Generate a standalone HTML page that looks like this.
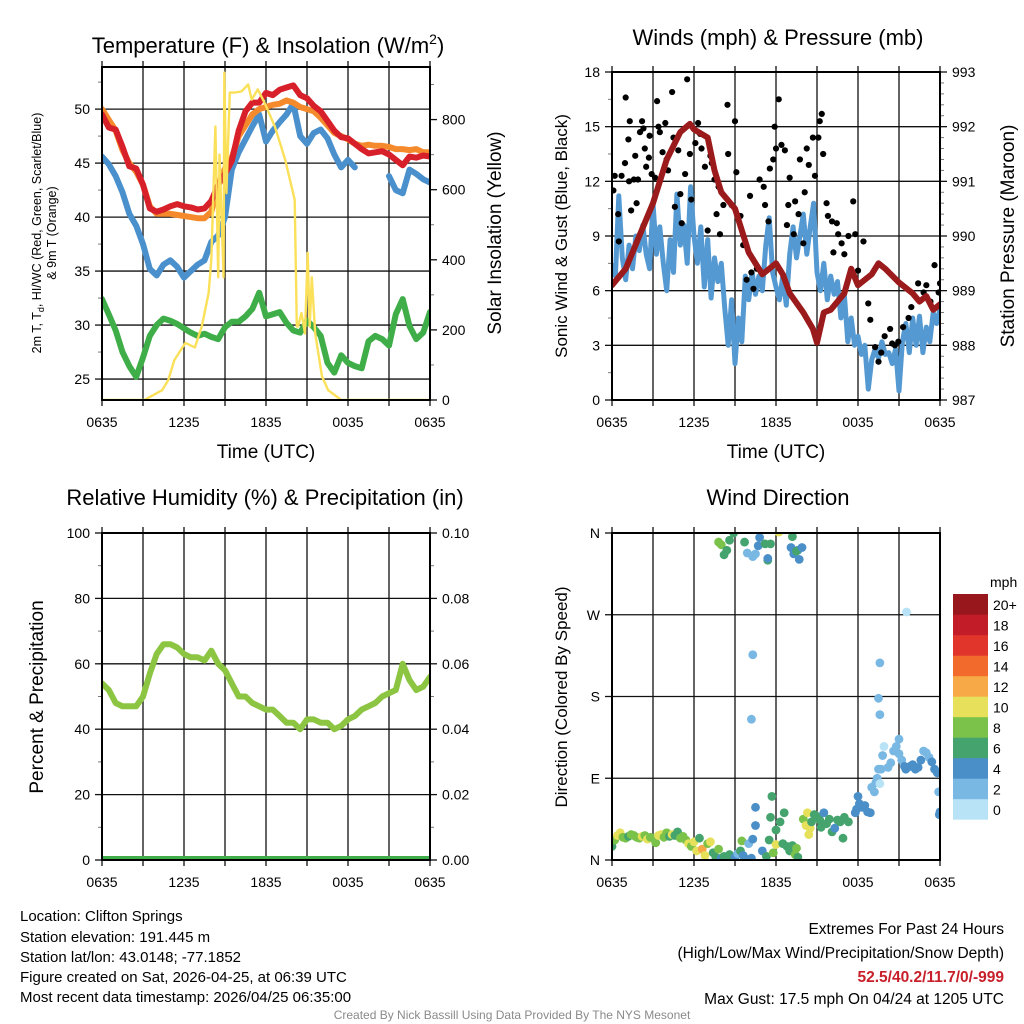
<!DOCTYPE html>
<html><head><meta charset="utf-8"><style>
html,body{margin:0;padding:0;background:#fff;}
svg{display:block;font-family:"Liberation Sans",Arial,sans-serif;}
</style></head><body>
<svg id="chart" width="1024" height="1024" viewBox="0 0 1024 1024" xmlns="http://www.w3.org/2000/svg">
<defs>
<clipPath id="c1"><rect x="102" y="67" width="328" height="333"/></clipPath>
<clipPath id="c2"><rect x="612" y="72" width="328" height="328"/></clipPath>
<clipPath id="c3"><rect x="102" y="533" width="328" height="327"/></clipPath>
<clipPath id="c4"><rect x="612" y="533" width="328" height="327"/></clipPath>
</defs>
<text x="268" y="53" font-size="22" text-anchor="middle">Temperature (F) &amp; Insolation (W/m<tspan dy="-9" font-size="14">2</tspan><tspan dy="9">)</tspan></text>
<text x="778" y="45" font-size="22" text-anchor="middle">Winds (mph) &amp; Pressure (mb)</text>
<text x="265" y="505" font-size="22" text-anchor="middle">Relative Humidity (%) &amp; Precipitation (in)</text>
<text x="778" y="505" font-size="22" text-anchor="middle">Wind Direction</text>
<g transform="translate(41,233) rotate(-90)"><text x="0" y="0" font-size="12.5" text-anchor="middle">2m T, T<tspan font-size="9" dy="3">d</tspan><tspan dy="-3">, HI/WC (Red, Green, Scarlet/Blue)</tspan></text><text x="0" y="15" font-size="12.5" text-anchor="middle">&amp; 9m T (Orange)</text></g>
<text transform="translate(501,233) rotate(-90)" font-size="19" text-anchor="middle">Solar Insolation (Yellow)</text>
<text transform="translate(567,236) rotate(-90)" font-size="17" text-anchor="middle">Sonic Wind &amp; Gust (Blue, Black)</text>
<text transform="translate(1014,236) rotate(-90)" font-size="19" text-anchor="middle">Station Pressure (Maroon)</text>
<text transform="translate(43,697) rotate(-90)" font-size="19" text-anchor="middle">Percent &amp; Precipitation</text>
<text transform="translate(567,697) rotate(-90)" font-size="17" text-anchor="middle">Direction (Colored By Speed)</text>
<text x="266" y="458" font-size="19" text-anchor="middle">Time (UTC)</text>
<text x="776" y="458" font-size="19" text-anchor="middle">Time (UTC)</text>
<g font-size="15">
<text x="20" y="921">Location: Clifton Springs</text>
<text x="20" y="942">Station elevation: 191.445 m</text>
<text x="20" y="962">Station lat/lon: 43.0148; -77.1852</text>
<text x="20" y="982">Figure created on Sat, 2026-04-25, at 06:39 UTC</text>
<text x="20" y="1002">Most recent data timestamp: 2026/04/25 06:35:00</text>
</g>
<g font-size="15.5" text-anchor="end">
<text x="1004" y="934">Extremes For Past 24 Hours</text>
<text x="1004" y="958">(High/Low/Max Wind/Precipitation/Snow Depth)</text>
<text x="1004" y="982" fill="#c8202a" font-weight="bold">52.5/40.2/11.7/0/-999</text>
<text x="1004" y="1004">Max Gust: 17.5 mph On 04/24 at 1205 UTC</text>
</g>
<text x="512" y="1019" font-size="12" fill="#8a8a8a" text-anchor="middle">Created By Nick Bassill Using Data Provided By The NYS Mesonet</text>
<g id="layer"></g>
</svg>
<script>
// ---- data ----
const tickLabels = ["0635","1235","1835","0035","0635"];
const halfHourTimes = [];
for (let i = 0; i <= 48; i++) halfHourTimes.push(i / 2);
const tempRed = [49.5,48.3,48.1,46.5,44.7,44.5,43,40.8,40.5,40.7,41,41.2,41,40.9,40.7,40.8,41.5,43,44,45.2,48,49.8,50.6,50.6,51.5,51.3,51.8,52,52.2,51.3,51,50.3,49.8,48.9,48,47.4,47.3,46.8,46.3,45.9,46,46.1,45.8,45.3,44.8,45.6,45.5,45.7,45.6];
const tempOrange = [50,49,48,46.2,45,44.2,43,41,40.3,40.3,40.3,40.2,40.1,40,39.9,39.9,40.5,43,44.5,45.5,47.5,48.5,49.5,50,50.2,50.4,50.5,50.8,50.6,50.2,50,49.8,49.2,48.5,47.8,47.5,47.2,46.8,46.6,46.7,46.6,46.6,46.5,46.3,46.3,46.2,46.3,46,46];
const dewBlue = [45.6,44.9,43.8,42.3,40.3,39.2,37.5,35.2,34.6,35.6,36,35.4,34.4,35,35.6,36,37.7,38.3,40,44.4,46,47.2,48.4,49.5,47,48,48.8,49.5,50.5,47.5,46.8,47.8,48.1,47.3,45.8,44.6,45.3,44.6,null,null,null,null,43.8,42.5,42.2,44.4,44,43.5,43.2];
const chillGreen = [32.4,31.0,29.5,27.5,26.2,25.2,27.0,29.0,30.0,30.6,30.4,30.1,29.7,29.3,29.0,29.2,28.9,28.7,29.8,30.3,30.3,30.8,31.5,33.0,30.8,31.0,31.2,30.2,29.5,29.3,30.4,29.8,29.0,26.5,25.6,27.2,26.5,26.2,26.0,28.5,29.0,28.7,28.1,31.0,32.4,29.9,28.7,29.3,31.2];
const solarTimes = [0,3.1,4.4,4.85,5.3,6.1,6.8,7.3,7.8,8,8.3,8.5,8.6,8.9,8.95,9.1,9.35,9.7,10.2,10.7,10.95,11.4,11.9,12.65,13.4,14.1,14.25,14.35,14.6,14.85,15.05,15.2,15.35,15.6,16.1,16.55,17.5,24];
const solarValues = [0,0,28,57,114,163,150,210,305,400,780,350,700,350,934,590,877,877,880,900,857,886,848,780,686,571,210,210,248,190,420,210,350,190,67,28,0,0];
const windHours = [];
for (let i = 0; i <= 96; i++) windHours.push(i / 4);
const windSpeed = [7.5,6.8,11.2,7.8,6.6,8.5,7.2,9.0,8.2,9.6,8.0,7.2,10.8,8.0,9.5,7.5,6.0,8.8,7.0,11.3,8.5,9.6,7.5,11.7,9.0,7.5,9.5,6.2,8.8,5.6,7.8,6.5,7.5,5.0,3.0,5.5,2.0,4.5,3.2,6.8,5.5,7.0,5.8,6.8,6.0,8.5,10.0,7.0,6.2,5.5,6.8,5.2,8.0,9.5,7.8,9.0,10.2,8.0,9.5,10.8,7.0,6.0,7.5,5.5,6.8,5.8,6.5,4.5,5.8,3.2,4.5,3.0,3.5,2.5,3.0,0.6,2.2,2.8,2.3,3.2,2.5,2.6,2.0,2.8,0.5,3.2,4.2,2.6,4.5,3.0,4.6,2.6,4.0,3.2,4.8,4.2,5.0];
const gustTimes = [0.1,0.2,0.45,0.5,0.7,1,0.95,1.2,1.3,1.25,1.4,1.6,1.7,1.8,1.9,2.05,2.2,2.3,2.4,2.5,2.7,2.75,2.9,3.15,3.3,3.4,3.5,3.7,3.9,4,4.1,4.4,4.5,4.6,4.85,5,5.1,5.35,5.5,5.7,5.8,6.1,6.3,6.45,6.55,6.8,7,7.2,7.3,7.5,7.65,7.8,7.9,8.15,8.45,8.5,8.75,9,9.1,9.4,9.6,9.85,10.1,10.2,10.35,10.6,10.8,11.1,11.2,11.45,11.55,11.8,11.9,12,12.2,12.4,12.65,12.8,12.9,13,13.3,13.4,13.65,13.75,14,14.1,14.25,14.4,14.7,14.85,15.1,15.2,15.35,15.45,15.7,15.8,16.1,16.2,16.45,16.55,16.8,17,17.3,17.65,17.8,18,18.4,18.75,18.9,19.25,19.5,19.7,19.95,20.35,20.5,20.7,20.95,21.3,21.7,21.9,22.4,22.8,23,23.3,23.6,23.9,24];
const gustValues = [11.5,12.3,10.2,8.7,12.3,16.6,13,14.3,15.3,12,10.4,12.1,13.4,10.8,12.1,14.7,15.3,14.9,13.8,12.8,13.3,14.5,12.4,12.2,16.4,15,14.7,13.6,15.2,13.2,12.6,16.9,14.4,10.6,13.7,11.3,9.7,12.4,17.6,13.5,11,14.1,15.2,14.6,13.8,12.8,9.3,13.4,13,12.1,10.2,11.7,9.1,10.7,16.2,13.5,10.7,15.3,12.5,10.1,8.5,6.6,11.2,7,6.1,7.2,12.1,11.7,10.7,9.8,12.7,13.2,15,13.8,16.5,14,13.7,9.6,10.7,12.2,9.1,10.9,10.2,13.2,8.6,11.4,13.8,12.9,14.4,12.3,14.4,15.3,15.7,13.5,10.8,10.1,9.8,8.1,9.7,9.1,8.6,8,9,10.9,9.1,7.1,8.7,5.3,4.4,2.9,2.1,2.6,3.5,3.9,3.1,3,3.2,4,4.5,5.1,6.4,5.9,6.3,5.4,7.4,5.9,6.4];
const pressHours = [0,1,2,3,4,5,5.7,6,7,7.5,8,9,10,11,12,12.5,13,14,14.7,15,15.5,16,17,17.5,18,19,19.5,20,21,22,22.5,23,23.5,24];
const pressure = [989.1,989.4,990.0,990.6,991.4,991.9,992.05,991.95,991.8,991.2,990.8,990.5,989.7,989.3,989.5,989.3,988.95,988.6,988.3,988.05,988.6,988.65,988.95,989.4,989.1,989.3,989.5,989.4,989.15,988.95,988.8,988.9,988.65,988.75];
const rhValues = [54,52,48,47,47,47,50,57,63,66,66,65,63,62,62,61,64,60,58,54,50,50,48,47,46,46,44,42,42,40,43,43,42,42,40,41,43,44,46,47,48,50,51,52,60,55,52,53,56];
const precipValues = [0,0,0,0,0,0,0,0,0,0,0,0,0,0,0,0,0,0,0,0,0,0,0,0,0,0,0,0,0,0,0,0,0,0,0,0,0,0,0,0,0,0,0,0,0,0,0,0,0];
const dirTimes = [0,0.2,0.4,0.6,0.8,1,1.2,1.4,1.6,1.8,2,2.2,2.4,2.6,2.8,3,3.2,3.4,3.6,3.8,4,4.2,4.4,4.6,4.8,5,5.2,5.4,5.6,5.8,6,6.2,6.4,6.6,6.8,7,7.2,7.4,7.6,7.8,8,8.2,8.4,8.6,8.8,9,9.2,9.4,9.5,9.6,9.8,10,10.2,10.3,10.5,10.5,11,11.3,11.5,11.6,11.7,11.8,12,12,12.3,12.6,12.5,12.8,13,13.2,13.4,13.5,13.6,14,14.2,14.3,14.4,14.5,14.6,14.8,15,15.2,15.3,15.5,15.7,15.9,16.1,16.3,16.5,16.7,16.9,17,17.3,17.8,17.9,18,18.1,18.3,18.5,18.7,18.9,19,19.2,19.3,19.4,19.5,19.6,19.7,19.8,19.9,19.6,19.5,19.6,20.2,20.4,20.6,20.8,21,21,21.2,21.4,21.5,21.55,21.8,22,22.2,22.4,22.6,22.8,23,23.2,23.4,23.6,23.8,23.9,24,23.95,7.8,8,8.2,8.4,8.6,8.9,9.7,9.9,10.3,10.5,10.8,10.7,11.2,11.4,11.6,11.4,12.2,13.2,13.1,13.3,13.6,13.5,13.7,13.9,10.3,10.2];
const dirDegrees = [15,22,27,30,25,24,26,28,27,25,24,26,27,23,25,24,19,27,28,25,30,26,28,27,31,24,26,22,18,15,20,10,24,12,5,18,20,8,3,12,2,4,2,6,1,3,7,10,21,5,1,18,2,23,58,38,10,4,22,47,70,8,17,33,42,52,18,15,10,16,6,13,3,45,38,52,28,35,42,50,48,44,36,52,40,45,31,35,44,42,24,47,42,52,56,70,62,58,60,53,52,80,75,85,90,100,84,100,115,125,160,178,217,102,107,120,125,133,117,110,103,100,273,103,105,100,102,110,120,118,113,108,100,96,75,53,50,350,347,336,341,352,360,350,338,334,337,355,346,348,330,348,332,361,356,344,337,341,340,331,344,226,155];
const dirSpeeds = [7,9,11,11,9,9,7,9,9,9,9,11,9,11,9,9,9,11,11,9,9,7,11,7,7,9,9,9,11,9,11,11,7,13,11,9,11,7,7,9,5,7,7,7,7,5,3,7,9,5,5,3,5,5,5,5,5,7,7,7,7,9,11,7,7,7,7,7,7,7,9,9,7,9,11,11,11,11,7,7,7,7,7,5,7,7,7,5,7,7,7,7,7,5,5,5,5,5,5,5,5,3,3,3,3,3,1,3,3,1,3,3,3,3,3,3,3,3,3,3,5,5,1,5,5,5,5,5,3,3,3,5,5,5,3,5,5,9,9,7,7,7,7,7,3,3,3,5,5,7,7,7,5,11,7,5,5,5,7,5,5,3,3];
const speedLevels = ["0","2","4","6","8","10","12","14","16","18","20+"];
const speedColors = ["#b8e3f7","#7ab8e4","#4a8fc8","#45a46d","#7bc24a","#e6e05a","#f8a947","#f26a2c","#e1352c","#c11c28","#98171c"];

// ---- helpers ----
const NS = "http://www.w3.org/2000/svg";
const layer = document.getElementById("layer");
function mk(tag, attrs, parent) {
  const el = document.createElementNS(NS, tag);
  for (const k in attrs) el.setAttribute(k, attrs[k]);
  (parent || layer).appendChild(el);
  return el;
}
function makeX(x0, w) { return t => x0 + t / 24 * w; }
function makeY(y0, y1, vmin, vmax) { return v => y1 - (v - vmin) / (vmax - vmin) * (y1 - y0); }
function linePath(ts, vs, fx, fy) {
  let d = "", pen = false;
  for (let i = 0; i < ts.length; i++) {
    if (vs[i] === null) { pen = false; continue; }
    d += (pen ? "L" : "M") + fx(ts[i]).toFixed(1) + "," + fy(vs[i]).toFixed(1);
    pen = true;
  }
  return d;
}
function frameAndGrid(name, x0, y0, w, h, hGrid) {
  const g = mk("g", {});
  
  
  for (let k = 1; k < 8; k++) {
    const x = x0 + k * w / 8;
    mk("line", {x1:x, y1:y0, x2:x, y2:y0+h, stroke:"#111", "stroke-width":1.3}, g);
  }
  hGrid.forEach(y => mk("line", {x1:x0, y1:y, x2:x0+w, y2:y, stroke:"#111", "stroke-width":1.3}, g));
  for (let k = 0; k <= 8; k++) {
    const x = x0 + k * w / 8;
    mk("line", {x1:x, y1:y0, x2:x, y2:y0-6, stroke:"#111", "stroke-width":1.3}, g);
    mk("line", {x1:x, y1:y0+h, x2:x, y2:y0+h+6, stroke:"#111", "stroke-width":1.3}, g);
  }
  tickLabels.forEach((lab, i) => {
    const t = mk("text", {x: x0 + i * w / 4, y: y0 + h + 27, "font-size": 14, "text-anchor": "middle"}, g);
    t.textContent = lab;
  });
}
function frame(name, x0, y0, w, h) {
  const r = mk("rect", {x:x0, y:y0, width:w, height:h, fill:"none", stroke:"#000", "stroke-width":2});
  
  
}
function yTicks(name, xEdge, side, vals, fy, labels, minor) {
  const g = mk("g", {});
  
  
  const dir = side === "left" ? -1 : 1;
  vals.forEach((v, i) => {
    const y = fy(v);
    mk("line", {x1:xEdge, y1:y, x2:xEdge+dir*7, y2:y, stroke:"#111", "stroke-width":1.3}, g);
    const t = mk("text", {x: xEdge + dir*12, y: y + 5, "font-size": 14, "text-anchor": side === "left" ? "end" : "start"}, g);
    t.textContent = labels[i];
  });
  (minor || []).forEach(v => {
    const y = fy(v);
    mk("line", {x1:xEdge, y1:y, x2:xEdge+dir*4, y2:y, stroke:"#777", "stroke-width":1}, g);
  });
}

// ---- Panel 1: temperature ----
const x1 = makeX(102, 328);
const yT = makeY(67, 400, 23.06, 53.9);
const yS = makeY(67, 400, 0, 950);
const t1Major = [25,30,35,40,45,50];
frameAndGrid("temperature", 102, 67, 328, 333, t1Major.map(yT));
yTicks("temperature-left-ticks", 102, "left", t1Major, yT, t1Major.map(String), [27.5,32.5,37.5,42.5,47.5,52.5]);
const sMajor = [0,200,400,600,800];
yTicks("solar-right-ticks", 430, "right", sMajor, yS, sMajor.map(String), [100,300,500,700,900]);
const p1 = mk("g", {"clip-path":"url(#c1)"});
let e;
e = mk("path", {d: linePath(halfHourTimes, chillGreen, x1, yT), fill:"none", stroke:"#3fae49", "stroke-width":6, "stroke-linejoin":"round", "stroke-linecap":"round"}, p1);


e = mk("path", {d: linePath(halfHourTimes, dewBlue, x1, yT), fill:"none", stroke:"#4a90cc", "stroke-width":6, "stroke-linejoin":"round", "stroke-linecap":"round"}, p1);


e = mk("path", {d: linePath(halfHourTimes, tempOrange, x1, yT), fill:"none", stroke:"#f58a2c", "stroke-width":6, "stroke-linejoin":"round", "stroke-linecap":"round"}, p1);


e = mk("path", {d: linePath(halfHourTimes, tempRed, x1, yT), fill:"none", stroke:"#d7202a", "stroke-width":6, "stroke-linejoin":"round", "stroke-linecap":"round"}, p1);


e = mk("path", {d: linePath(solarTimes, solarValues, x1, yS), fill:"none", stroke:"#fbe05a", "stroke-width":2.4, "stroke-linejoin":"round"}, p1);


frame("temperature", 102, 67, 328, 333);

// ---- Panel 2: winds ----
const x2 = makeX(612, 328);
const yW = makeY(72, 400, 0, 18);
const yP = makeY(72, 400, 987, 993);
const wMajor = [0,3,6,9,12,15,18];
frameAndGrid("winds", 612, 72, 328, 328, [3,6,9,12,15].map(yW));
yTicks("wind-left-ticks", 612, "left", wMajor, yW, wMajor.map(String), [1.5,4.5,7.5,10.5,13.5,16.5]);
const pMajor = [987,988,989,990,991,992,993];
yTicks("pressure-right-ticks", 940, "right", pMajor, yP, pMajor.map(String), [987.2,987.4,987.6,987.8,988.2,988.4,988.6,988.8,989.2,989.4,989.6,989.8,990.2,990.4,990.6,990.8,991.2,991.4,991.6,991.8,992.2,992.4,992.6,992.8]);
const p2 = mk("g", {"clip-path":"url(#c2)"});
e = mk("path", {d: linePath(windHours, windSpeed, x2, yW), fill:"none", stroke:"#5499d2", "stroke-width":5, "stroke-linejoin":"round"}, p2);


const gustG = mk("g", {}, p2);


gustTimes.forEach((t, i) => {
  const c = mk("circle", {cx: x2(t), cy: yW(gustValues[i]), r: 3.1, fill: "#000"}, gustG);
  
  
});
e = mk("path", {d: linePath(pressHours, pressure, x2, yP), fill:"none", stroke:"#9b1a1c", "stroke-width":6, "stroke-linejoin":"round", "stroke-linecap":"round"}, p2);


frame("winds", 612, 72, 328, 328);

// ---- Panel 3: humidity ----
const x3 = makeX(102, 328);
const yR = makeY(533, 860, 0, 100);
const yPr = makeY(533, 860, 0, 0.1);
const rMajor = [0,20,40,60,80,100];
frameAndGrid("humidity", 102, 533, 328, 327, [20,40,60,80].map(yR));
yTicks("humidity-left-ticks", 102, "left", rMajor, yR, rMajor.map(String), [10,30,50,70,90]);
const prMajor = [0,0.02,0.04,0.06,0.08,0.1];
yTicks("precip-right-ticks", 430, "right", prMajor, yPr, prMajor.map(v => v.toFixed(2)), [0.01,0.03,0.05,0.07,0.09]);
const p3 = mk("g", {"clip-path":"url(#c3)"});
e = mk("path", {d: linePath(halfHourTimes, rhValues, x3, yR), fill:"none", stroke:"#8cc542", "stroke-width":6, "stroke-linejoin":"round", "stroke-linecap":"round"}, p3);


e = mk("path", {d: linePath(halfHourTimes, precipValues, x3, yPr), fill:"none", stroke:"#3fae49", "stroke-width":8}, p3);


frame("humidity", 102, 533, 328, 327);

// ---- Panel 4: wind direction ----
const x4 = makeX(612, 328);
const yD = makeY(533, 860, 0, 360);
const dMajor = [0,90,180,270,360];
frameAndGrid("direction", 612, 533, 328, 327, [90,180,270].map(yD));
yTicks("direction-left-ticks", 612, "left", dMajor, yD, ["N","E","S","W","N"], []);
const p4 = mk("g", {"clip-path":"url(#c4)"});
dirTimes.forEach((t, i) => {
  const bin = Math.min(10, Math.max(0, Math.floor(dirSpeeds[i] / 2)));
  const c = mk("circle", {cx: x4(t), cy: yD(dirDegrees[i]), r: 4.4, fill: speedColors[bin]}, p4);
  
  
});
frame("direction", 612, 533, 328, 327);

// colorbar
const cb = mk("g", {});


const cbTitle = mk("text", {x: 990, y: 587, "font-size": 14}, cb);
cbTitle.textContent = "mph";
speedLevels.forEach((lab, i) => {
  const y = 594 + (10 - i) * 20.5;
  const r = mk("rect", {x: 953, y: y, width: 35, height: 20.7, fill: speedColors[i]}, cb);
  
  
  const t = mk("text", {x: 993, y: y + 16, "font-size": 14}, cb);
  t.textContent = lab;
});
</script>
</body></html>
